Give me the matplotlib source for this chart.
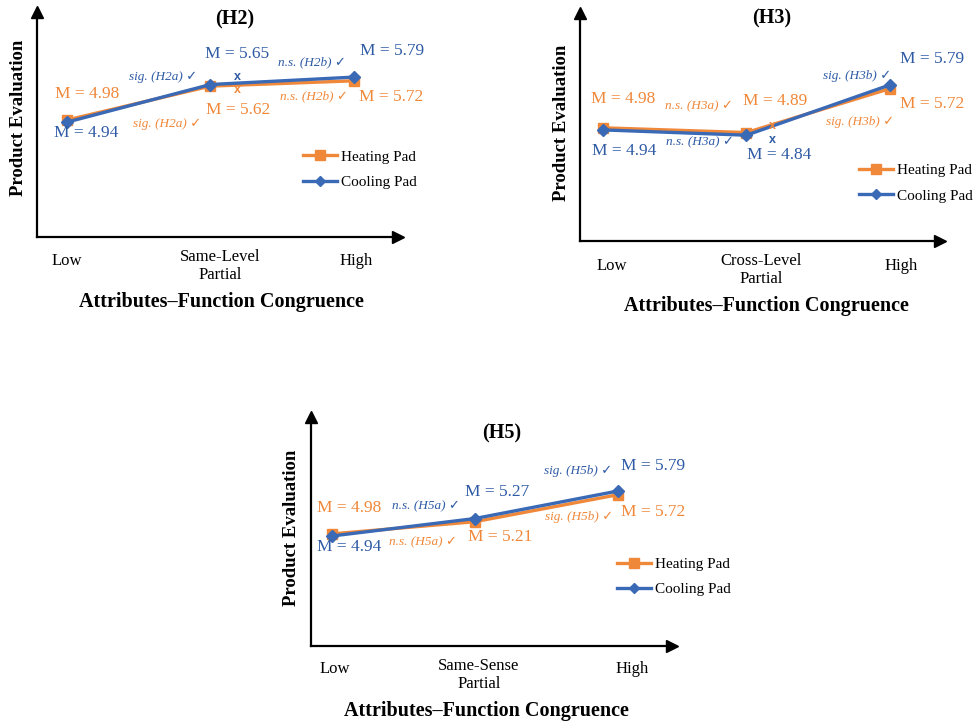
import matplotlib
matplotlib.use("Agg")
import matplotlib.pyplot as plt
from matplotlib.lines import Line2D

# data
levels_h2 = ["Low", "Same-Level\nPartial", "High"]
levels_h3 = ["Low", "Cross-Level\nPartial", "High"]
levels_h5 = ["Low", "Same-Sense\nPartial", "High"]

heating_h2 = [4.98, 5.62, 5.72]
cooling_h2 = [4.94, 5.65, 5.79]
heating_h3 = [4.98, 4.89, 5.72]
cooling_h3 = [4.94, 4.84, 5.79]
heating_h5 = [4.98, 5.21, 5.72]
cooling_h5 = [4.94, 5.27, 5.79]

ORANGE = "#F0883A"
BLUE = "#3A69B5"
BLUE_TXT = "#2F5BA5"
SERIF = ["Liberation Serif", "DejaVu Sans"]

fig = plt.figure(figsize=(9.73, 7.25), dpi=100)


def panel(rect, title, levels, heating, cooling, ylim, xlim, notes,
          tick_off, title_pos, ylab_pos, xlab_x, leg_pos):
    ax = fig.add_axes(rect)
    x = range(len(levels))
    ax.plot(x, heating, color=ORANGE, lw=2.4, marker="s", ms=7.5, label="Heating Pad")
    ax.plot(x, cooling, color=BLUE, lw=2.4, marker="D", ms=6.5, label="Cooling Pad")
    ax.set_xlim(*xlim)
    ax.set_ylim(*ylim)
    for s in ["top", "right"]:
        ax.spines[s].set_visible(False)
    for s in ["left", "bottom"]:
        ax.spines[s].set_linewidth(1.6)
    ax.set_xticks([])
    ax.set_yticks([])
    # arrow heads
    ax.plot(1, 0, ">", color="black", ms=8, transform=ax.transAxes, clip_on=False)
    ax.plot(0, 1, "^", color="black", ms=8, transform=ax.transAxes, clip_on=False)

    # category labels
    for i, lab in enumerate(levels):
        dx, dy = tick_off[i]
        ax.annotate(lab, xy=(i, 0), xycoords=ax.get_xaxis_transform(),
                    xytext=(dx, dy), textcoords="offset pixels",
                    ha="center", va="center", fontsize=12, family=SERIF,
                    annotation_clip=False)

    ax.text(title_pos[0], title_pos[1], title, transform=ax.transAxes,
            ha="center", va="center", fontsize=14.5, fontweight="bold", family=SERIF)
    ax.text(ylab_pos[0], ylab_pos[1], "Product Evaluation", transform=ax.transAxes,
            rotation=90, ha="center", va="center", fontsize=13.5,
            fontweight="bold", family=SERIF)
    ax.annotate("Attributes\u2013Function Congruence", xy=(xlab_x, 0),
                xycoords="axes fraction", xytext=(0, -65), textcoords="offset pixels",
                ha="center", va="center", fontsize=14.5, fontweight="bold",
                family=SERIF, annotation_clip=False)

    series = {"h": heating, "c": cooling}
    for txt, key, i, dx, dy in notes:
        col = ORANGE if key == "h" else BLUE_TXT
        if txt == "x":
            kw = dict(fontsize=9, family=["Liberation Sans"], fontweight="bold")
        elif txt.startswith("M"):
            kw = dict(fontsize=12.5, family=SERIF)
        else:
            kw = dict(fontsize=9.5, family=SERIF, style="italic")
        ax.annotate(txt, xy=(i, series[key][i]), xytext=(dx, dy),
                    textcoords="offset pixels", ha="center", va="center",
                    color=col, annotation_clip=False, **kw)

    handles = [Line2D([], [], color=ORANGE, lw=2.4, marker="s", ms=6.5),
               Line2D([], [], color=BLUE, lw=2.4, marker="D", ms=5)]
    ax.legend(handles, ["Heating Pad", "Cooling Pad"], loc="center left",
              bbox_to_anchor=leg_pos, frameon=False, borderpad=0, borderaxespad=0,
              handlelength=2.2, handletextpad=0.3, labelspacing=0.75,
              prop={"family": SERIF, "size": 11})
    return ax


notes_h2 = [
    ("M = 4.98", "h", 0, 20, 26),
    ("M = 4.94", "c", 0, 19, -11),
    ("sig. (H2a) \u2713", "c", 1, -47, 8),
    ("M = 5.65", "c", 1, 27, 31),
    ("x", "c", 1, 27, 8),
    ("x", "h", 1, 27, -4),
    ("M = 5.62", "h", 1, 28, -24),
    ("sig. (H2a) \u2713", "h", 1, -43, -38),
    ("n.s. (H2b) \u2713", "c", 2, -42, 15),
    ("M = 5.79", "c", 2, 38, 26),
    ("n.s. (H2b) \u2713", "h", 2, -40, -15),
    ("M = 5.72", "h", 2, 38, -16),
]
notes_h3 = [
    ("M = 4.98", "h", 0, 20, 29),
    ("M = 4.94", "c", 0, 21, -21),
    ("n.s. (H3a) \u2713", "h", 1, -47, 26),
    ("M = 4.89", "h", 1, 29, 32),
    ("x", "h", 1, 26, 7),
    ("x", "c", 1, 26, -5),
    ("n.s. (H3a) \u2713", "c", 1, -46, -7),
    ("M = 4.84", "c", 1, 33, -20),
    ("sig. (H3b) \u2713", "c", 2, -33, 9),
    ("M = 5.79", "c", 2, 42, 26),
    ("M = 5.72", "h", 2, 42, -15),
    ("sig. (H3b) \u2713", "h", 2, -30, -33),
]
notes_h5 = [
    ("M = 4.98", "h", 0, 17, 26),
    ("M = 4.94", "c", 0, 17, -11),
    ("n.s. (H5a) \u2713", "c", 1, -49, 12),
    ("M = 5.27", "c", 1, 22, 27),
    ("n.s. (H5a) \u2713", "h", 1, -52, -21),
    ("M = 5.21", "h", 1, 25, -15),
    ("sig. (H5b) \u2713", "c", 2, -40, 20),
    ("M = 5.79", "c", 2, 35, 25),
    ("sig. (H5b) \u2713", "h", 2, -39, -22),
    ("M = 5.72", "h", 2, 35, -17),
]

panel([37 / 973, 1 - 237 / 725, 361 / 973, 225 / 725], "(H2)", levels_h2,
      heating_h2, cooling_h2, (2.77, 7.02), (-0.21, 2.31), notes_h2,
      [(0, -24), (10, -29), (3, -24)], (0.548, 0.965), (-0.05, 0.53), 0.51,
      (0.737, 0.30))
panel([580 / 973, 1 - 241 / 725, 360 / 973, 228 / 725], "(H3)", levels_h3,
      heating_h3, cooling_h3, (2.84, 7.15), (-0.16, 2.35), notes_h3,
      [(9, -25), (15, -29), (11, -25)], (0.533, 0.978), (-0.05, 0.52), 0.517,
      (0.775, 0.254))
panel([311 / 973, 1 - 646 / 725, 361 / 973, 229 / 725], "(H5)", levels_h5,
      heating_h5, cooling_h5, (2.86, 7.19), (-0.147, 2.38), notes_h5,
      [(3, -23), (4, -29), (14, -23)], (0.529, 0.93), (-0.053, 0.515), 0.485,
      (0.848, 0.301))

fig.savefig("out.png", dpi=100)
